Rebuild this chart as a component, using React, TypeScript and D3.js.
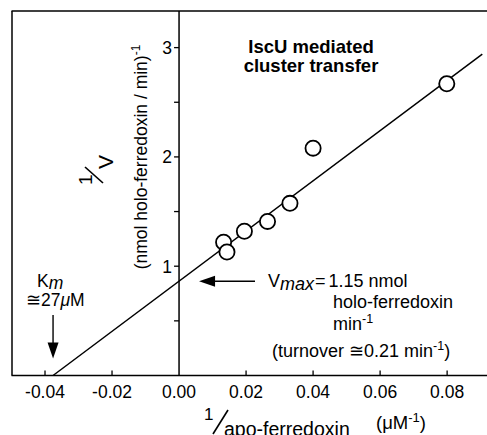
import * as d3 from 'd3';

// data (1/[apo-ferredoxin] in µM^-1, 1/v)
const invSubstrate = [0.0133, 0.0143, 0.0195, 0.0264, 0.0331, 0.04, 0.0799];
const invVelocity = [1.22, 1.13, 1.32, 1.41, 1.575, 2.08, 2.67];

// fitted line ends
const fitX = [-0.0376, 0.0905];
const fitY = [0, 2.94];

const xTicks = [-0.04, -0.02, 0.0, 0.02, 0.04, 0.06, 0.08];
const yTicks = [1, 2, 3];
const yMinorTicks = [0.5, 1.5, 2.5];

const W = 487;
const H = 435;
const font = '"Liberation Sans", Arial, Helvetica, sans-serif';

export default function App() {
    const x = d3.scaleLinear().domain([-0.05, 0.0919]).range([11.5, 487]);
    const y = d3.scaleLinear().domain([0, 3.335]).range([375.5, 11]);

    const x0 = x(0);
    const yBase = y(0);

    const fitLine = d3.line<number>()
        .x(d => x(fitX[d]))
        .y(d => y(fitY[d]))([0, 1]) as string;

    const yInt = y(fitY[1] - (fitY[1] - fitY[0]) / (fitX[1] - fitX[0]) * fitX[1]);
    const xInt = x(fitX[0]);

    const ink = '#000';

    return (
        <svg width={W} height={H} style={{ position: 'absolute', left: 0, top: 0, background: '#fff' }}
            fontFamily={font}>
            {/* frame */}
            <line x1={11.5} x2={W} y1={11} y2={11} stroke={ink} strokeWidth={1.5} />
            <line x1={12} x2={12} y1={11} y2={yBase} stroke={ink} strokeWidth={1.5} />
            <line x1={11.5} x2={W} y1={yBase} y2={yBase} stroke={ink} strokeWidth={1.5} />
            {/* y axis at x = 0 */}
            <line x1={x0} x2={x0} y1={11} y2={yBase} stroke={ink} strokeWidth={1.5} />

            {/* x ticks */}
            {xTicks.map(t => (
                <g key={'xt' + t}>
                    {t !== 0 && <line x1={x(t)} x2={x(t)} y1={yBase} y2={yBase - 5} stroke={ink} strokeWidth={1.3} />}
                    <text x={x(t)} y={398} fontSize={17.5} textAnchor="middle" fill={ink}>{t.toFixed(2)}</text>
                </g>
            ))}

            {/* y ticks */}
            {yTicks.map(t => (
                <g key={'yt' + t}>
                    <line x1={x0} x2={x0 - 5} y1={y(t)} y2={y(t)} stroke={ink} strokeWidth={1.3} />
                    <text x={x0 - 7} y={y(t) + 6.5} fontSize={17.5} textAnchor="end" fill={ink}>{t}</text>
                </g>
            ))}
            {yMinorTicks.map(t => (
                <line key={'ym' + t} x1={x0} x2={x0 - 5} y1={y(t)} y2={y(t)} stroke={ink} strokeWidth={1.3} />
            ))}

            {/* fit */}
            <path d={fitLine} fill="none" stroke={ink} strokeWidth={1.5} />

            {/* points */}
            {invSubstrate.map((v, i) => (
                <circle key={i} cx={x(v)} cy={y(invVelocity[i])} r={7.6} fill="#fff" stroke={ink} strokeWidth={1.8} />
            ))}

            {/* title */}
            <text x={311} y={53} fontSize={18.5} fontWeight="bold" textAnchor="middle" fill={ink}>IscU mediated</text>
            <text x={311} y={72} fontSize={18.5} fontWeight="bold" textAnchor="middle" fill={ink}>cluster transfer</text>

            {/* y label: 1/V, rotated */}
            <g transform="translate(113,185) rotate(-90)">
                <text x={0} y={-21} fontSize={19} fill={ink}>1</text>
                <line x1={2} y1={-10} x2={18} y2={-28} stroke={ink} strokeWidth={1.6} />
                <text x={16} y={0} fontSize={21} fill={ink}>V</text>
            </g>
            <text transform={`translate(147,157) rotate(-90)`} fontSize={17.5} textAnchor="middle" fill={ink}>
                (nmol holo-ferredoxin / min)<tspan fontSize={12} dy={-7}>-1</tspan>
            </text>

            {/* x label */}
            <text x={204} y={420} fontSize={17} fill={ink}>1</text>
            <line x1={213} x2={228} y1={434} y2={410} stroke={ink} strokeWidth={1.6} />
            <text x={224} y={436} fontSize={19.5} fill={ink}>apo-ferredoxin</text>
            <text x={376} y={429} fontSize={18.5} fill={ink}>(<tspan>μ</tspan>M<tspan fontSize={13} dy={-7}>-1</tspan><tspan dy={7}>)</tspan></text>

            {/* Vmax arrow */}
            <line x1={255} x2={212} y1={yInt} y2={yInt} stroke={ink} strokeWidth={1.4} />
            <path d={`M${x0 + 20},${yInt} l16,-5.5 l0,11 z`} fill={ink} />
            <text x={268} y={287} fontSize={18} fill={ink}>V<tspan fontStyle="italic" dy={3}>max</tspan><tspan dy={-3} dx={1}>=</tspan><tspan dx={3}>1.15 nmol</tspan></text>
            <text x={333} y={308} fontSize={18} fill={ink}>holo-ferredoxin</text>
            <text x={333} y={330} fontSize={18} fill={ink}>min<tspan fontSize={12.5} dy={-7}>-1</tspan></text>
            <text x={272} y={357} fontSize={18} fill={ink}>(turnover ≅0.21 min<tspan fontSize={12.5} dy={-7}>-1</tspan><tspan dy={7}>)</tspan></text>

            {/* Km arrow */}
            <line x1={xInt} x2={xInt} y1={315} y2={344} stroke={ink} strokeWidth={1.4} />
            <path d={`M${xInt},${yBase - 17} l-5.5,-16 l11,0 z`} fill={ink} />
            <text x={37} y={287} fontSize={17.5} fill={ink}>K<tspan fontStyle="italic" dy={2}>m</tspan></text>
            <text x={26} y={306} fontSize={17.5} fill={ink}>≅27<tspan fontStyle="italic">μ</tspan>M</text>
        </svg>
    );
}
